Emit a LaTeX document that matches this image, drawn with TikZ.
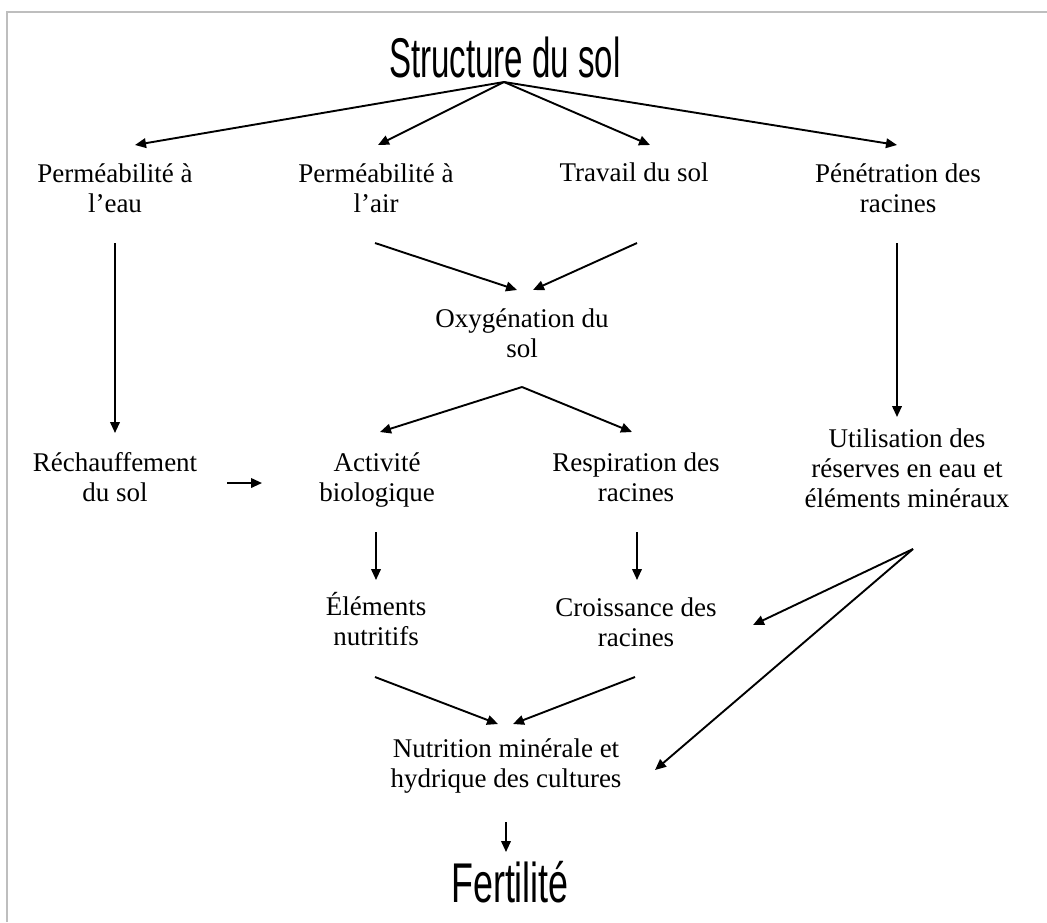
\documentclass[tikz,border=0pt]{standalone}
\usepackage{fontspec}
\setmainfont{Liberation Serif}
\newfontfamily\titlefont[FakeStretch=0.59]{Liberation Sans}
\newfontfamily\fertfont[FakeStretch=0.64]{Liberation Sans}
\usetikzlibrary{arrows.meta,calc}
\definecolor{framegray}{RGB}{190,190,190}
\tikzset{
  txt/.style={font=\fontsize{13.5}{15}\selectfont, align=center, inner sep=0pt, text=black},
  bigtitle/.style={font=\titlefont\fontsize{28}{30}\selectfont, inner sep=0pt},
  bigfert/.style={font=\fertfont\fontsize{28}{30}\selectfont, inner sep=0pt},
  arr/.style={draw=black, line width=0.95pt, -{Triangle[length=5.5pt,width=4.8pt]}},
  framestyle/.style={draw=framegray, line width=1pt}
}
\begin{document}
\begin{tikzpicture}[x=0.5pt,y=-0.5pt]
\useasboundingbox (0,0) rectangle (1047,922);
\fill[white] (0,0) rectangle (1047,922);
\draw[framestyle] (7,922) -- (7,12) -- (1047,12);

\node[bigtitle] (title) at (505,57) {Structure du sol};
\node[txt] (pe) at (115,188) {Perméabilité à\\l’eau};
\node[txt] (pa) at (376,188) {Perméabilité à\\l’air};
\node[txt] (tr) at (634,172) {Travail du sol};
\node[txt] (pr) at (898,188) {Pénétration des\\racines};
\node[txt] (ox) at (522,333) {Oxygénation du\\sol};
\node[txt] (re) at (115,477) {Réchauffement\\du sol};
\node[txt] (ab) at (377,480) {Activité\\biologique};
\node[txt] (rr) at (636,477) {Respiration des\\racines};
\node[txt] (ut) at (907,468) {Utilisation des\\réserves en eau et\\éléments minéraux};
\node[txt] (en) at (376,619) {Éléments\\nutritifs};
\node[txt] (cr) at (636,622) {Croissance des\\racines};
\node[txt] (nu) at (506,766) {Nutrition minérale et\\hydrique des cultures};
\node[bigfert] (fe) at (510,882) {Fertilité};

\coordinate (apex) at ($(title)+(-1,25)$);
\coordinate (oxb) at ($(ox)+(0,54)$);
\coordinate (utb) at ($(ut)+(6,81)$);

\draw[arr] (apex) -- ($(pe)+(20,-43)$);
\draw[arr] (apex) -- ($(pa)+(2,-43)$);
\draw[arr] (apex) -- ($(tr)+(16,-27)$);
\draw[arr] (apex) -- ($(pr)+(-1,-43)$);

\draw[arr] ($(pe)+(0,55)$) -- ($(re)+(0,-44)$);
\draw[arr] ($(pa)+(-1,55)$) -- ($(ox)+(-5,-43)$);
\draw[arr] ($(tr)+(3,71)$) -- ($(ox)+(11,-43)$);

\draw[arr] (oxb) -- ($(ab)+(3,-48)$);
\draw[arr] (oxb) -- ($(rr)+(-4,-45)$);
\draw[arr] ($(re)+(112,6)$) -- ($(ab)+(-115,3)$);
\draw[arr] ($(pr)+(-1,55)$) -- ($(ut)+(-10,-51)$);

\draw[arr] ($(ab)+(-1,52)$) -- ($(en)+(0,-39)$);
\draw[arr] ($(rr)+(1,55)$) -- ($(cr)+(1,-42)$);

\draw[arr] (utb) -- ($(cr)+(117,3)$);
\draw[arr] (utb) -- ($(nu)+(149,4)$);

\draw[arr] ($(en)+(-1,58)$) -- ($(nu)+(-8,-42)$);
\draw[arr] ($(cr)+(-1,55)$) -- ($(nu)+(7,-42)$);
\draw[arr] ($(nu)+(0,56)$) -- ($(fe)+(-4,-30)$);
\end{tikzpicture}
\end{document}
